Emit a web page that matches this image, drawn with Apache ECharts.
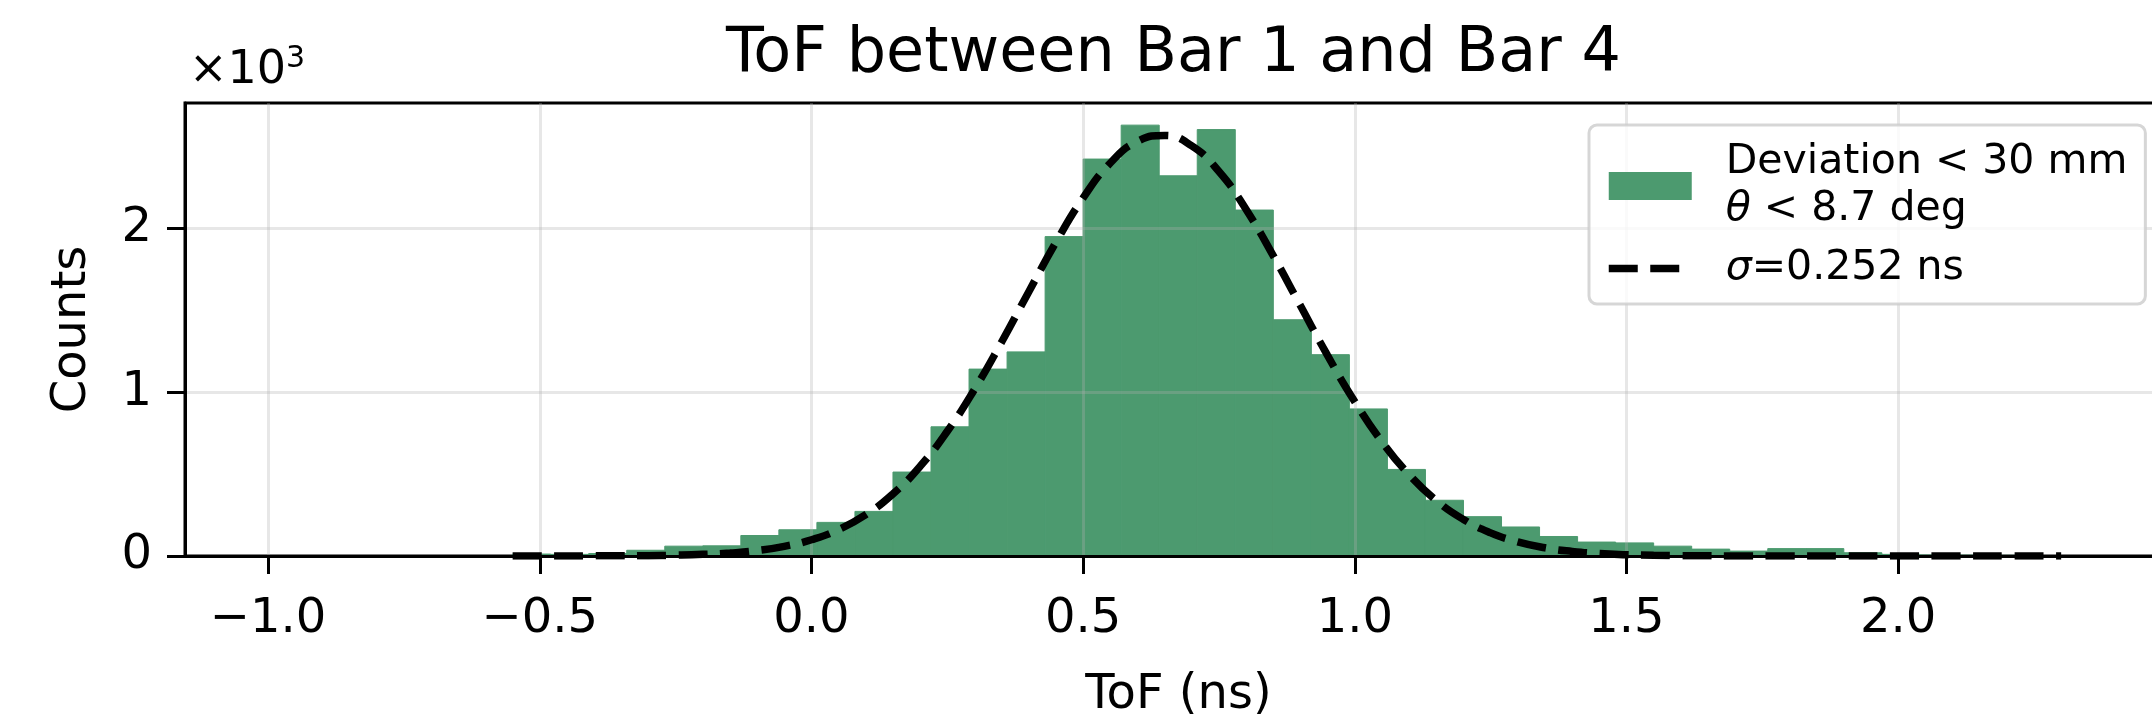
<!DOCTYPE html>
<html>
<head>
<meta charset="utf-8">
<script src="https://cdn.jsdelivr.net/npm/echarts@6/dist/echarts.min.js"></script>
<style>
html,body{margin:0;padding:0;background:#fff;}
#chart{width:2152px;height:718px;}
</style>
</head>
<body>
<div id="chart"></div>
<script>
// ---------- data ----------
const chartTitle = 'ToF between Bar 1 and Bar 4';
const xAxisName = 'ToF (ns)';
const yAxisName = 'Counts';
const histName = 'Deviation < 30 mm\nθ < 8.7 deg';
const fitName = 'σ=0.252 ns';

// histogram bin left edges (ns) and bin width (ns)
const binLeft = [-0.55,-0.48,-0.41,-0.34,-0.27,-0.20,-0.13,-0.06,0.01,0.08,
                 0.15,0.22,0.29,0.36,0.43,0.50,0.57,0.64,0.71,0.78,
                 0.85,0.92,0.99,1.06,1.13,1.20,1.27,1.34,1.41,1.48,
                 1.55,1.62,1.69,1.76,1.83,1.90,1.97,2.04,2.11,2.18,2.25];
const binWidth = 0.07;
const binCounts = [12,10,15,35,60,62,125,160,205,272,
                   512,788,1140,1245,1948,2421,2628,2319,2601,2110,
                   1441,1228,897,528,340,240,177,119,85,80,
                   60,42,30,45,45,20,10,6,5,4,3];

// Gaussian fit curve
const fitX = [-0.55,-0.50,-0.45,-0.40,-0.35,-0.30,-0.25,-0.20,-0.15,-0.10,
              -0.05,0.00,0.05,0.10,0.15,0.20,0.25,0.30,0.35,0.40,
              0.45,0.50,0.55,0.60,0.65,0.70,0.75,0.80,0.85,0.90,
              0.95,1.00,1.05,1.10,1.15,1.20,1.25,1.30,1.35,1.40,
              1.45,1.50,1.55,1.60,1.65,1.70,1.80,1.90,2.00,2.10,2.20,2.30];
const fitY = [0,0,0,1,1,2,5,10,18,33,
              59,99,161,252,379,547,761,1016,1305,1612,
              1914,2184,2397,2529,2565,2501,2345,2113,1831,1526,
              1222,941,696,496,339,223,141,86,50,28,
              15,8,4,2,1,0,0,0,0,0,0,0];

const xTicks = [-1.0,-0.5,0.0,0.5,1.0,1.5,2.0];
const yTicks = [0,1000,2000];
const xRange = [-1.153, 2.504];
const yRange = [0, 2763];

// ---------- chart ----------
const FONT = 'DejaVu Sans';
const GREEN = '#4c9a6f';
const DASH = [29, 12.5];
const chart = echarts.init(document.getElementById('chart'), null, {renderer:'canvas'});

const histData = binLeft.map((x0, i) => [x0, x0 + binWidth, binCounts[i]]);
const fitData = fitX.map((x, i) => [x, fitY[i]]);

const option = {
  backgroundColor: '#fff',
  animation: false,
  textStyle: {fontFamily: FONT},
  title: {
    text: chartTitle,
    left: 726, top: 24, padding: 0,
    textStyle: {fontFamily: FONT, fontSize: 62, fontWeight: 'normal', color: '#000'}
  },
  grid: {
    left: 185, top: 103, width: 1987, height: 453,
    show: true, borderColor: '#000', borderWidth: 3,
    backgroundColor: 'transparent',
    containLabel: false, outerBoundsMode: 'none'
  },
  legend: {
    orient: 'vertical', left: 1589, top: 125,
    padding: [14, 18, 12, 16],
    itemWidth: 83, itemHeight: 28, itemGap: 12,
    backgroundColor: 'rgba(255,255,255,0.8)',
    borderColor: 'rgba(204,204,204,0.8)', borderWidth: 3, borderRadius: 8,
    textStyle: {
      fontFamily: FONT, fontSize: 41, lineHeight: 47, color: '#000',
      padding: [0, 0, 0, 29],
      rich: {
        r: {fontFamily: FONT, fontSize: 41, lineHeight: 47, color: '#000'},
        i: {fontFamily: FONT, fontSize: 41, lineHeight: 47, color: '#000', fontStyle: 'italic'}
      }
    },
    formatter: function (name) {
      if (name === histName) return '{r|Deviation < 30 mm}\n{i|θ}{r| < 8.7 deg}';
      return '{i|σ}{r|=0.252 ns}';
    },
    data: [
      {name: histName, icon: 'rect'},
      {name: fitName, itemStyle: {opacity: 0},
       lineStyle: {color: '#000', width: 7.5, type: DASH, opacity: 1}}
    ]
  },
  xAxis: {
    type: 'value', min: xRange[0], max: xRange[1], z: 2,
    name: xAxisName, nameLocation: 'middle', nameGap: 116,
    nameTextStyle: {fontFamily: FONT, fontSize: 48, color: '#000'},
    axisLine: {show: true, onZero: false, lineStyle: {color: '#000', width: 3}},
    axisTick: {show: true, customValues: xTicks, length: 18, lineStyle: {color: '#000', width: 3}},
    axisLabel: {
      show: true, customValues: xTicks, margin: 40,
      fontFamily: FONT, fontSize: 48, color: '#000',
      formatter: v => v.toFixed(1).replace('-', '\u2212')
    },
    splitLine: {show: true, lineStyle: {color: 'rgba(176,176,176,0.3)', width: 3}}
  },
  yAxis: {
    type: 'value', min: yRange[0], max: yRange[1], interval: 1000, z: 2,
    name: yAxisName, nameLocation: 'middle', nameGap: 88, nameRotate: 90,
    nameTextStyle: {fontFamily: FONT, fontSize: 48, color: '#000'},
    axisLine: {show: true, onZero: false, lineStyle: {color: '#000', width: 3}},
    axisTick: {show: true, customValues: yTicks, length: 18, lineStyle: {color: '#000', width: 3}},
    axisLabel: {
      show: true, customValues: yTicks, margin: 33,
      fontFamily: FONT, fontSize: 48, color: '#000',
      formatter: v => String(Math.round(v / 1000))
    },
    splitLine: {show: true, lineStyle: {color: 'rgba(176,176,176,0.3)', width: 3}}
  },
  graphic: [{
    type: 'text', left: 189, top: 44, z: 10,
    style: {
      text: '{b|×10}{s|3}',
      rich: {
        b: {fontFamily: FONT, fontSize: 46, color: '#000'},
        s: {fontFamily: FONT, fontSize: 30, color: '#000', padding: [0, 0, 24, 0]}
      }
    }
  }],
  series: [
    {
      name: histName,
      type: 'custom',
      z: 1,
      itemStyle: {color: GREEN},
      encode: {x: [0, 1], y: 2},
      data: histData,
      renderItem: function (params, api) {
        const p0 = api.coord([api.value(0), api.value(2)]);
        const p1 = api.coord([api.value(1), 0]);
        return {
          type: 'rect',
          shape: {x: p0[0], y: p0[1], width: p1[0] - p0[0], height: p1[1] - p0[1]},
          style: {fill: GREEN, stroke: GREEN, lineWidth: 1}
        };
      }
    },
    {
      name: fitName,
      type: 'line',
      z: 3,
      data: fitData,
      smooth: true,
      symbol: 'none',
      showSymbol: false,
      lineStyle: {color: '#000', width: 7.5, type: DASH},
      itemStyle: {color: '#000'}
    }
  ]
};
chart.setOption(option);
</script>
</body>
</html>
